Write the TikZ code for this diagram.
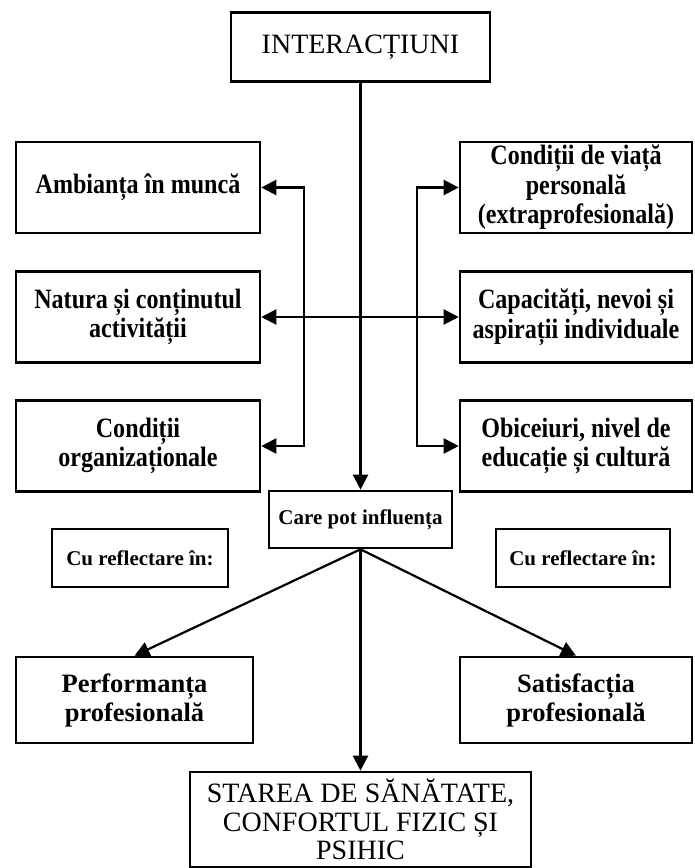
\documentclass[tikz,border=0pt]{standalone}
\usepackage{fontspec}
\setmainfont{Liberation Serif}
\newfontfamily\midfont[FakeStretch=0.86]{Liberation Serif}
\usepackage{tikz}
\usetikzlibrary{arrows.meta,positioning}
\tikzset{
	box/.style={draw, line width=2.6pt, align=center, inner sep=0pt},
	mid/.style={box, minimum height=91pt, font=\midfont\fontsize{28}{29.5}\selectfont\bfseries},
	small/.style={box, minimum height=57pt, font=\fontsize{21}{24}\selectfont\bfseries},
	low/.style={box, minimum height=86pt, font=\fontsize{26.5}{29}\selectfont\bfseries},
	link/.style={line width=2.2pt, -{Triangle[length=15pt,width=15pt]}},
	dlink/.style={line width=2.2pt, {Triangle[length=15pt,width=15pt]}-{Triangle[length=15pt,width=15pt]}}
}
\begin{document}
\begin{tikzpicture}[x=1pt,y=-1pt]
	\useasboundingbox (0,0) rectangle (694,868);

	\node[box, minimum width=259pt, minimum height=69pt, font=\fontsize{28}{30}\selectfont] (inter) at (360.5,47) {INTERACȚIUNI};

	\node[mid, minimum width=244pt] (amb) at (138,187.5) {Ambianța în muncă};
	\node[mid, minimum width=244pt] (nat) at (138,317) {Natura și conținutul\\activității};
	\node[mid, minimum width=244pt] (org) at (138,446) {Condiții\\organizaționale};

	\node[mid, minimum width=232pt] (viata) at (576,187.5) {Condiții de viață\\personală\\(extraprofesională)};
	\node[mid, minimum width=232pt] (cap) at (576,317) {Capacități, nevoi și\\aspirații individuale};
	\node[mid, minimum width=232pt] (obic) at (576,446) {Obiceiuri, nivel de\\educație și cultură};

	\node[small, minimum width=183pt] (care) at (360.5,519.5) {Care pot influența};
	\node[small, minimum width=176pt, minimum height=58pt] (refl) at (140,558) {Cu reflectare în:};
	\node[small, minimum width=174pt, minimum height=58pt] (refr) at (583,558) {Cu reflectare în:};

	\node[low, minimum width=237pt] (perf) at (134.5,700) {Performanța\\profesională};
	\node[low, minimum width=232pt] (sat) at (576,700) {Satisfacția\\profesională};
	\node[box, minimum width=341pt, minimum height=95pt, font=\fontsize{28}{28.5}\selectfont] (stare) at (360.5,819.5) {STAREA DE SĂNĂTATE,\\CONFORTUL FIZIC ȘI\\PSIHIC};

	\draw[link] (inter.south) -- (care.north);
	\draw[dlink] (amb.east) -- ++(43,0) |- (org.east);
	\draw[dlink] (viata.west) -- ++(-42,0) |- (obic.west);
	\draw[dlink] (nat.east) -- (cap.west);

	\foreach \Dest in {perf,sat,stare}
		\draw[link] (care.south) -- (\Dest.north);

\end{tikzpicture}
\end{document}
